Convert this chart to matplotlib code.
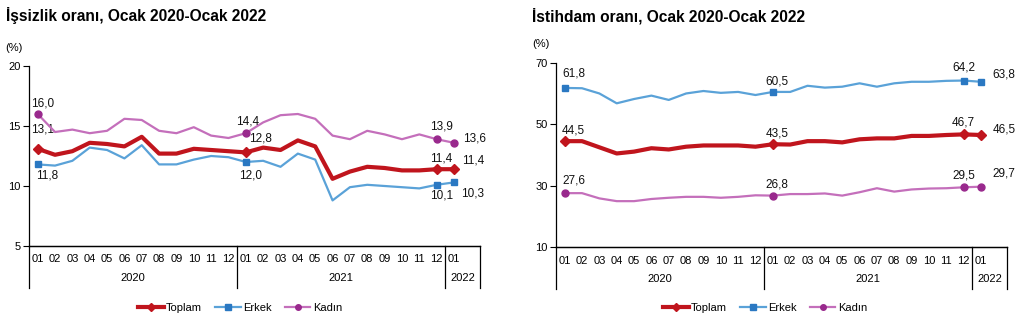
# unemployment and employment rates by sex, Jan 2020 - Jan 2022
import matplotlib.pyplot as plt
from matplotlib.lines import Line2D
import matplotlib.transforms as mtransforms

plt.rcParams['font.family'] = ['Liberation Sans', 'DejaVu Sans']

MONTHS = ["01", "02", "03", "04", "05", "06", "07", "08", "09", "10", "11", "12"] * 2 + ["01"]
YEARS = ["2020", "2021", "2022"]

# unemployment rate (%)
issizlik_toplam = [13.1, 12.6, 12.9, 13.6, 13.5, 13.3, 14.1, 12.7, 12.7, 13.1, 13.0, 12.9,
                   12.8, 13.2, 13.0, 13.8, 13.3, 10.6, 11.2, 11.6, 11.5, 11.3, 11.3, 11.4,
                   11.4]
issizlik_erkek = [11.8, 11.7, 12.1, 13.2, 13.0, 12.3, 13.4, 11.8, 11.8, 12.2, 12.5, 12.4,
                  12.0, 12.1, 11.6, 12.7, 12.2, 8.8, 9.9, 10.1, 10.0, 9.9, 9.8, 10.1,
                  10.3]
issizlik_kadin = [16.0, 14.5, 14.7, 14.4, 14.6, 15.6, 15.5, 14.6, 14.4, 14.9, 14.2, 14.0,
                  14.4, 15.3, 15.9, 16.0, 15.6, 14.2, 13.9, 14.6, 14.3, 13.9, 14.3, 13.9,
                  13.6]

# employment rate (%)
istihdam_toplam = [44.5, 44.5, 42.5, 40.5, 41.1, 42.2, 41.8, 42.7, 43.1, 43.1, 43.1, 42.7,
                   43.5, 43.4, 44.5, 44.5, 44.1, 45.1, 45.4, 45.4, 46.2, 46.2, 46.5, 46.7,
                   46.5]
istihdam_erkek = [61.8, 61.7, 60.0, 56.8, 58.2, 59.3, 57.9, 60.0, 60.8, 60.2, 60.5, 59.5,
                  60.5, 60.5, 62.5, 61.9, 62.2, 63.3, 62.2, 63.3, 63.8, 63.8, 64.1, 64.2,
                  63.8]
istihdam_kadin = [27.6, 27.6, 25.9, 25.0, 25.0, 25.7, 26.1, 26.4, 26.4, 26.1, 26.4, 26.9,
                  26.8, 27.3, 27.3, 27.5, 26.8, 27.9, 29.2, 28.1, 28.8, 29.1, 29.2, 29.5,
                  29.7]

RED = "#C0151D"
BLUE_LINE = "#5AA2D8"
BLUE_MARK = "#2A78C2"
PURPLE_LINE = "#C46FBB"
PURPLE_MARK = "#99298D"

MARKED = [0, 12, 23, 24]

fig = plt.figure(figsize=(10.22, 3.26), dpi=100)


def fmt(v):
    return f"{v:.1f}".replace(".", ",")


def draw_panel(rect, title, toplam, erkek, kadin, ylim, yticks, offsets, title_x, legend_x):
    ax = fig.add_axes(rect)
    x = list(range(len(toplam)))
    series = [
        (toplam, RED, RED, "D", 3.0, 5.5),
        (erkek, BLUE_LINE, BLUE_MARK, "s", 1.6, 5),
        (kadin, PURPLE_LINE, PURPLE_MARK, "o", 1.6, 5),
    ]
    for k, (vals, lc, mc, mk, lw, ms) in enumerate(series):
        ax.plot(x, vals, color=lc, lw=lw, zorder=3)
        ax.plot([x[i] for i in MARKED], [vals[i] for i in MARKED], ls="none",
                marker=mk, ms=ms, color=mc, zorder=4)
        for i, (dx, dy) in zip(MARKED, offsets[k]):
            ax.annotate(fmt(vals[i]), (x[i], vals[i]), xytext=(dx, -dy),
                        textcoords="offset pixels", ha="center", va="center",
                        fontsize=8.5, color="#111111")

    ax.set_xlim(-0.5, 25.5)
    ax.set_ylim(*ylim)
    ax.set_yticks(yticks)
    ax.set_yticklabels([str(t) for t in yticks], fontsize=8)
    ax.tick_params(axis="y", length=4, width=0.8, pad=2)
    ax.set_xticks(x)
    ax.set_xticklabels(MONTHS, fontsize=8)
    ax.tick_params(axis="x", length=0, pad=6)
    for s in ["top", "right"]:
        ax.spines[s].set_visible(False)
    for s in ["left", "bottom"]:
        ax.spines[s].set_linewidth(0.9)

    # group separators under the month axis
    bb = ax.get_position()
    h_px = bb.height * fig.get_figheight() * fig.dpi
    trans = mtransforms.blended_transform_factory(ax.transData, ax.transAxes)
    depth = -42 / h_px
    for xs in [-0.5, 11.5, 23.5, 25.5]:
        ax.add_line(Line2D([xs, xs], [0, depth], transform=trans, color="black",
                           lw=0.9, clip_on=False))
    ax.plot([-0.5, 25.5], [0, 0], transform=trans, color="black", lw=0.9, clip_on=False)
    for yr, xc in zip(YEARS, [5.5, 17.5, 24.5]):
        ax.text(xc, -32 / h_px, yr, transform=trans, ha="center", va="center", fontsize=8)

    ax.text(-0.015, 1.10, "(%)", transform=ax.transAxes, ha="right", va="center", fontsize=8)
    fig.text(title_x, 0.951, title, ha="left", va="center", fontsize=11.2, fontweight="bold")

    handles = [Line2D([], [], color=RED, lw=3, marker="D", ms=4),
               Line2D([], [], color=BLUE_LINE, lw=1.6, marker="s", ms=5,
                      markerfacecolor=BLUE_MARK, markeredgecolor=BLUE_MARK),
               Line2D([], [], color=PURPLE_LINE, lw=1.6, marker="o", ms=4,
                      markerfacecolor=PURPLE_MARK, markeredgecolor=PURPLE_MARK)]
    ax.legend(handles, ["Toplam", "Erkek", "Kadın"], loc="center", ncol=3,
              bbox_to_anchor=(legend_x, 1 - 308 / 326), bbox_transform=fig.transFigure,
              frameon=False, fontsize=8, handlelength=2.3, handletextpad=0.2,
              columnspacing=1.2)
    return ax


left_offsets = [
    [(5, -19), (15, -14), (5, -11), (19, -8.5)],
    [(9, 11), (5, 14), (5, 11), (19, 11)],
    [(5, -11), (2, -12), (5, -12.5), (21, -4)],
]
right_offsets = [
    [(9, -11), (4, -11), (0, -12), (23, -6)],
    [(9, -14), (4, -10), (0, -13), (23, -7)],
    [(9, -13), (4, -11), (0, -11.6), (23, -13)],
]

draw_panel([29 / 1022, 1 - 246 / 326, 451 / 1022, 180 / 326],
           "İşsizlik oranı, Ocak 2020-Ocak 2022",
           issizlik_toplam, issizlik_erkek, issizlik_kadin,
           (5, 20), [5, 10, 15, 20], left_offsets, 6 / 1022, 240 / 1022)
draw_panel([556 / 1022, 1 - 247.3 / 326, 451 / 1022, 184.6 / 326],
           "İstihdam oranı, Ocak 2020-Ocak 2022",
           istihdam_toplam, istihdam_erkek, istihdam_kadin,
           (10, 70), [10, 30, 50, 70], right_offsets, 532 / 1022, 765 / 1022)

fig.savefig("out.png", dpi=100)
